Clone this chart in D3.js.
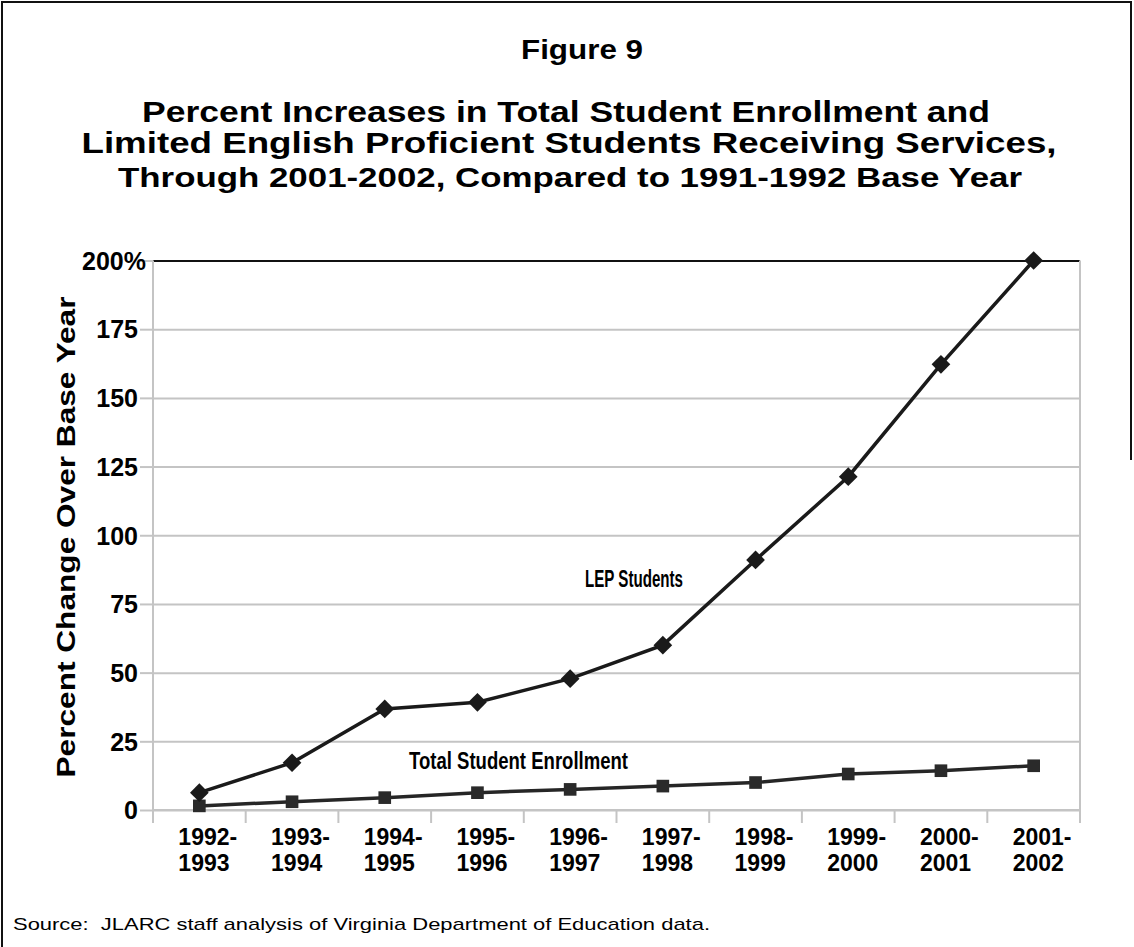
<!DOCTYPE html>
<html>
<head>
<meta charset="utf-8">
<script src="https://cdn.jsdelivr.net/npm/d3@7"></script>
<style>
  html, body { margin: 0; padding: 0; background: #fff; }
  svg { display: block; }
  .bold { font-family: "Liberation Sans", Arial, sans-serif; font-weight: bold; fill: #000; }
  .narrow { font-family: "Liberation Sans Narrow", "Arial Narrow", "Liberation Sans", sans-serif; font-weight: bold; fill: #000; }
</style>
</head>
<body>
<svg id="chart" width="1134" height="947"></svg>
<script>
// ---- Data ----
const categories = ["1992-1993", "1993-1994", "1994-1995", "1995-1996", "1996-1997",
                    "1997-1998", "1998-1999", "1999-2000", "2000-2001", "2001-2002"];
const lepStudents = [6.3, 17.2, 36.8, 39.2, 47.8, 60.0, 91.0, 121.3, 162.2, 200.0];
const totalEnrollment = [1.5, 3.0, 4.5, 6.3, 7.5, 8.7, 10.0, 13.1, 14.3, 16.1];
const yTicks = [0, 25, 50, 75, 100, 125, 150, 175, 200];
const seriesLabels = ["LEP Students", "Total Student Enrollment"];

(function () {
const svg = d3.select("#chart");

// frame
svg.append("path")
  .attr("d", "M2,947 L2,2 L1131,2 L1131,460")
  .attr("fill", "none").attr("stroke", "#111").attr("stroke-width", 2);

// titles
svg.append("text").attr("class", "bold").attr("x", 582).attr("y", 59)
  .attr("text-anchor", "middle").attr("font-size", 28)
  .attr("textLength", 122).attr("lengthAdjust", "spacingAndGlyphs").text("Figure 9");
svg.append("text").attr("class", "bold").attr("x", 566).attr("y", 122)
  .attr("text-anchor", "middle").attr("font-size", 30)
  .attr("textLength", 848).attr("lengthAdjust", "spacingAndGlyphs")
  .text("Percent Increases in Total Student Enrollment and");
svg.append("text").attr("class", "bold").attr("x", 569).attr("y", 153)
  .attr("text-anchor", "middle").attr("font-size", 30)
  .attr("textLength", 975).attr("lengthAdjust", "spacingAndGlyphs")
  .text("Limited English Proficient Students Receiving Services,");
svg.append("text").attr("class", "bold").attr("x", 570).attr("y", 187)
  .attr("text-anchor", "middle").attr("font-size", 27)
  .attr("textLength", 904).attr("lengthAdjust", "spacingAndGlyphs")
  .text("Through 2001-2002, Compared to 1991-1992 Base Year");

// scales
const pl = 153, pr = 1080, pt = 260.5, pb = 810;
const x = d3.scaleBand().domain(categories).range([pl, pr]).padding(0);
const y = d3.scaleLinear().domain([0, 200]).range([pb, pt]);

// gridlines
const grid = svg.append("g").attr("transform", `translate(${pl},0)`)
  .call(d3.axisLeft(y).tickValues(yTicks).tickSize(-(pr - pl)).tickFormat(""));
grid.select(".domain").remove();
grid.selectAll(".tick line").attr("stroke", "#c4c4c4").attr("stroke-width", 2)
  .filter(d => d === 200).attr("stroke", "#111");

// left ticks
const yAxis = svg.append("g").attr("transform", `translate(${pl},0)`)
  .call(d3.axisLeft(y).tickValues(yTicks).tickSize(13).tickPadding(0)
        .tickFormat(d => d === 200 ? "200%" : d));
yAxis.select(".domain").remove();
yAxis.attr("font-family", null).attr("font-size", null);
yAxis.selectAll(".tick line").attr("stroke", "#c4c4c4").attr("stroke-width", 2);
yAxis.selectAll(".tick text").attr("class", "bold").attr("font-size", 25)
  .attr("fill", "#000")
  .attr("x", d => d === 200 ? -7 : -15).attr("dy", "0.35em");

// left axis line and right plot border
svg.append("line").attr("x1", pl).attr("x2", pl).attr("y1", pt).attr("y2", pb + 13)
  .attr("stroke", "#c4c4c4").attr("stroke-width", 2);
svg.append("line").attr("x1", pr).attr("x2", pr).attr("y1", pt).attr("y2", pb + 13)
  .attr("stroke", "#c4c4c4").attr("stroke-width", 2);

// bottom axis ticks at band boundaries
const xAxis = svg.append("g").attr("transform", `translate(0,${pb})`);
xAxis.append("line").attr("x1", pl).attr("x2", pr).attr("y1", 0).attr("y2", 0)
  .attr("stroke", "#c4c4c4").attr("stroke-width", 2);
xAxis.selectAll("line.tk").data(categories).enter().append("line").attr("class", "tk")
  .attr("x1", d => x(d)).attr("x2", d => x(d)).attr("y1", 0).attr("y2", 13)
  .attr("stroke", "#c4c4c4").attr("stroke-width", 2);

// x labels
const xl = svg.append("g").selectAll("text").data(categories).enter().append("text")
  .attr("class", "narrow").attr("font-size", 23)
  .attr("x", d => x(d) + x.bandwidth() / 2 - 21);
xl.append("tspan").attr("y", 845).text(d => d.split("-")[0] + "-");
xl.append("tspan").attr("x", d => x(d) + x.bandwidth() / 2 - 21).attr("y", 871).text(d => d.split("-")[1]);

// y axis title
svg.append("text").attr("class", "bold").attr("font-size", 25)
  .attr("transform", "translate(75,537) rotate(-90)").attr("text-anchor", "middle")
  .attr("textLength", 481).attr("lengthAdjust", "spacingAndGlyphs")
  .text("Percent Change Over Base Year");

// lines
const cx = i => x(categories[i]) + x.bandwidth() / 2;
const line = d3.line().x((d, i) => cx(i)).y(d => y(d));
svg.append("path").datum(totalEnrollment).attr("d", line)
  .attr("fill", "none").attr("stroke", "#262626").attr("stroke-width", 3.5);
svg.append("path").datum(lepStudents).attr("d", line)
  .attr("fill", "none").attr("stroke", "#1a1a1a").attr("stroke-width", 3.5);

// markers
const sq = d3.symbol().type(d3.symbolSquare).size(160);
svg.append("g").selectAll("path").data(totalEnrollment).enter().append("path")
  .attr("d", sq).attr("fill", "#2a2a2a")
  .attr("transform", (d, i) => `translate(${cx(i)},${y(d)})`);
const dm = d3.symbol().type(d3.symbolSquare).size(175);
svg.append("g").selectAll("path").data(lepStudents).enter().append("path")
  .attr("d", dm).attr("fill", "#1a1a1a")
  .attr("transform", (d, i) => `translate(${cx(i)},${y(d)}) rotate(45)`);

// series labels
svg.append("text").attr("class", "narrow").attr("font-size", 23)
  .attr("x", 585).attr("y", y(81.2))
  .attr("textLength", 98).attr("lengthAdjust", "spacingAndGlyphs").text(seriesLabels[0]);
svg.append("text").attr("class", "narrow").attr("font-size", 23)
  .attr("x", 409).attr("y", y(14.8))
  .attr("textLength", 219).attr("lengthAdjust", "spacingAndGlyphs").text(seriesLabels[1]);

// source
svg.append("text").attr("x", 13).attr("y", 930)
  .attr("font-family", "'Liberation Sans', Arial, sans-serif").attr("font-size", 17)
  .style("white-space", "pre")
  .attr("fill", "#000").attr("textLength", 697).attr("lengthAdjust", "spacingAndGlyphs")
  .text("Source:  JLARC staff analysis of Virginia Department of Education data.");
})();
</script>
</body>
</html>
